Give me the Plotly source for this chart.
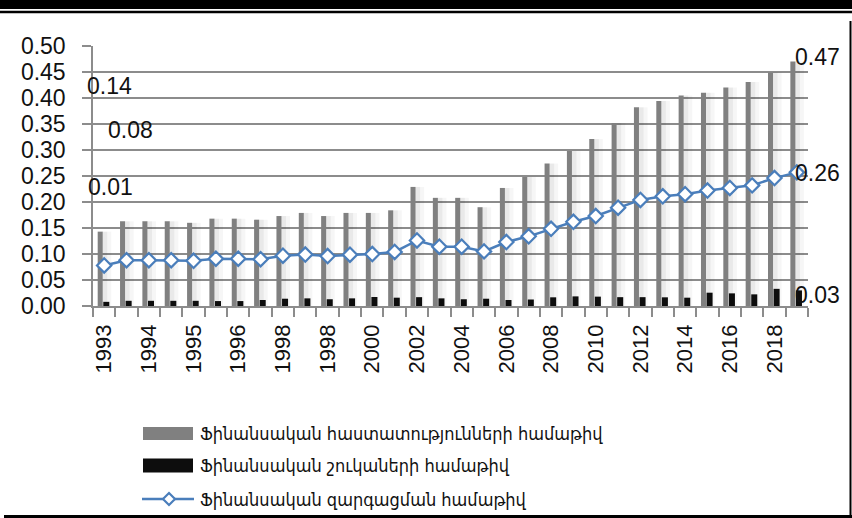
import plotly.graph_objects as go

# ---------------- data ----------------
tick_labels = ["1993", "1994", "1995", "1996", "1998", "1998", "2000", "2002",
               "2004", "2006", "2008", "2010", "2012", "2014", "2016", "2018"]

institutions = [0.143, 0.163, 0.163, 0.163, 0.160, 0.168, 0.168, 0.166,
                0.173, 0.179, 0.173, 0.179, 0.179, 0.184, 0.229, 0.208,
                0.208, 0.190, 0.227, 0.248, 0.274, 0.298, 0.321, 0.352,
                0.382, 0.394, 0.405, 0.410, 0.420, 0.431, 0.449, 0.470]

markets = [0.008, 0.010, 0.010, 0.010, 0.010, 0.0095, 0.0095, 0.0115,
           0.014, 0.0147, 0.013, 0.0147, 0.0173, 0.016, 0.017, 0.0147,
           0.013, 0.014, 0.0115, 0.0125, 0.0167, 0.0185, 0.018, 0.017,
           0.017, 0.0167, 0.016, 0.0256, 0.0243, 0.0224, 0.033, 0.030]

development = [0.078, 0.088, 0.088, 0.088, 0.087, 0.091, 0.091, 0.090,
               0.0967, 0.099, 0.096, 0.0986, 0.0999, 0.104, 0.126, 0.114,
               0.114, 0.105, 0.123, 0.134, 0.1485, 0.162, 0.173, 0.189,
               0.204, 0.211, 0.215, 0.222, 0.227, 0.232, 0.246, 0.257]

series_names = ["Ֆինանսական հաստատությունների համաթիվ",
                "Ֆինանսական շուկաների համաթիվ",
                "Ֆինանսական զարգացման համաթիվ"]

# ---------------- layout constants ----------------
W, H = 852, 518
L, R, T, B = 93, 44, 46, 212
PW, PH = W - L - R, H - T - B

def px(x):  # pixel x -> paper
    return (x - L) / PW

def py(y):  # pixel y -> paper
    return (H - B - y) / PH

n = len(institutions)
xs = list(range(n))

GRAY = "#808080"
BLACK = "#0d0d0d"
BLUE = "#4a7ebb"
GRID = "#8c8c8c"
AX_FONT = "Liberation Sans, Arial, sans-serif"
LEG_FONT = "DejaVu Sans Condensed, DejaVu Sans, sans-serif"

fig = go.Figure()

# soft shadow behind the grey bars
fig.add_trace(go.Bar(x=xs, y=institutions, width=0.40, offset=-0.08,
                     marker=dict(color="rgba(0,0,0,0.035)", line=dict(width=0)),
                     showlegend=False, hoverinfo="skip"))
fig.add_trace(go.Bar(x=xs, y=institutions, width=0.22, offset=-0.08,
                     marker=dict(color="rgba(0,0,0,0.05)", line=dict(width=0)),
                     showlegend=False, hoverinfo="skip"))
fig.add_trace(go.Bar(x=xs, y=institutions, width=0.225, offset=-0.29,
                     marker=dict(color=GRAY, line=dict(width=0)),
                     name=series_names[0], showlegend=False))
fig.add_trace(go.Bar(x=xs, y=markets, width=0.27, offset=-0.04,
                     marker=dict(color=BLACK, line=dict(width=0)),
                     name=series_names[1], showlegend=False))
fig.add_trace(go.Scatter(x=xs, y=development, mode="lines+markers",
                         line=dict(color=BLUE, width=2.5),
                         marker=dict(symbol="diamond", size=11, color="white",
                                     line=dict(color=BLUE, width=2.2)),
                         name=series_names[2], showlegend=False))

ann = []
lab_font = dict(family=AX_FONT, size=23, color="#111111")
# displaced first-point labels
ann.append(dict(x=0.26, y=0.423, xref="x", yref="y", text=f"{institutions[0]:.2f}",
                showarrow=False, font=lab_font))
ann.append(dict(x=1.16, y=0.338, xref="x", yref="y", text=f"{development[0]:.2f}",
                showarrow=False, font=lab_font))
ann.append(dict(x=0.30, y=0.229, xref="x", yref="y", text=f"{markets[0]:.2f}",
                showarrow=False, font=lab_font))
# last-point labels
ann.append(dict(x=n - 1, y=institutions[-1], xref="x", yref="y", text=f"{institutions[-1]:.2f}",
                showarrow=False, xanchor="left", xshift=-4, yshift=5, font=lab_font))
ann.append(dict(x=n - 1, y=development[-1], xref="x", yref="y", text=f"{development[-1]:.2f}",
                showarrow=False, xanchor="left", xshift=-4, yshift=-1, font=lab_font))
ann.append(dict(x=n - 1, y=markets[-1], xref="x", yref="y", text=f"{markets[-1]:.2f}",
                showarrow=False, xanchor="left", xshift=-4, yshift=-5, font=lab_font))

# manual legend texts
leg_rows = [433, 465, 499]
for name, yy in zip(series_names, leg_rows):
    ann.append(dict(x=px(198), y=py(yy), xref="paper", yref="paper", text=name,
                    showarrow=False, xanchor="left", yanchor="middle",
                    font=dict(family=LEG_FONT, size=18, color="#111111")))

shapes = []
# page frame lines
shapes.append(dict(type="rect", xref="paper", yref="paper", x0=px(0), x1=px(W),
                   y0=py(0), y1=py(9), fillcolor="black", line=dict(width=0)))
shapes.append(dict(type="line", xref="paper", yref="paper", x0=px(0), x1=px(W),
                   y0=py(12), y1=py(12), line=dict(color="black", width=2.6)))
shapes.append(dict(type="line", xref="paper", yref="paper", x0=px(850.5), x1=px(850.5),
                   y0=py(21), y1=py(518), line=dict(color="black", width=2)))
shapes.append(dict(type="line", xref="paper", yref="paper", x0=px(4), x1=px(W),
                   y0=py(516.5), y1=py(516.5), line=dict(color="black", width=3)))
# legend swatches
shapes.append(dict(type="rect", xref="paper", yref="paper", x0=px(143), x1=px(193),
                   y0=py(427), y1=py(440), fillcolor=GRAY, line=dict(width=0)))
shapes.append(dict(type="rect", xref="paper", yref="paper", x0=px(143), x1=px(193),
                   y0=py(458.5), y1=py(472.5), fillcolor=BLACK, line=dict(width=0)))
shapes.append(dict(type="line", xref="paper", yref="paper", x0=px(142), x1=px(194),
                   y0=py(499), y1=py(499), line=dict(color=BLUE, width=2.5)))
d = 6
shapes.append(dict(type="path", xref="paper", yref="paper",
                   path=f"M {px(169)},{py(499 - d)} L {px(169 + d)},{py(499)} "
                        f"L {px(169)},{py(499 + d)} L {px(169 - d)},{py(499)} Z",
                   fillcolor="white", line=dict(color=BLUE, width=2.2)))

fig.update_layout(
    width=W, height=H,
    margin=dict(l=L, r=R, t=T, b=B, pad=0),
    paper_bgcolor="white", plot_bgcolor="white",
    barmode="overlay",
    showlegend=False,
    annotations=ann,
    shapes=shapes,
    xaxis=dict(range=[-0.5, n - 0.5], tickmode="array",
               tickvals=xs[::2], ticktext=tick_labels,
               tickangle=-90, ticks="", showgrid=False, zeroline=False,
               showline=True, linecolor=GRID, linewidth=1.5,
               tickfont=dict(family=AX_FONT, size=22, color="#111111"),
               ticklabelstandoff=8,
               minor=dict(ticks="outside", tick0=-0.5, dtick=1, ticklen=9,
                          tickcolor=GRID, tickwidth=1.5, showgrid=False)),
    yaxis=dict(range=[0, 0.5], tickmode="array",
               tickvals=[i * 0.05 for i in range(11)],
               ticktext=[f"{i * 0.05:.2f}" for i in range(11)],
               ticks="outside", ticklen=9, tickcolor=GRID, tickwidth=1.5,
               showgrid=True, gridcolor=GRID, gridwidth=1.5, zeroline=False,
               showline=True, linecolor=GRID, linewidth=1.5,
               tickfont=dict(family=AX_FONT, size=23, color="#111111"),
               ticklabelstandoff=12),
)

fig.write_html("out.html",
               config={"displayModeBar": False},
               post_script="document.body.style.margin='0';"
                           "document.body.style.overflow='hidden';")
